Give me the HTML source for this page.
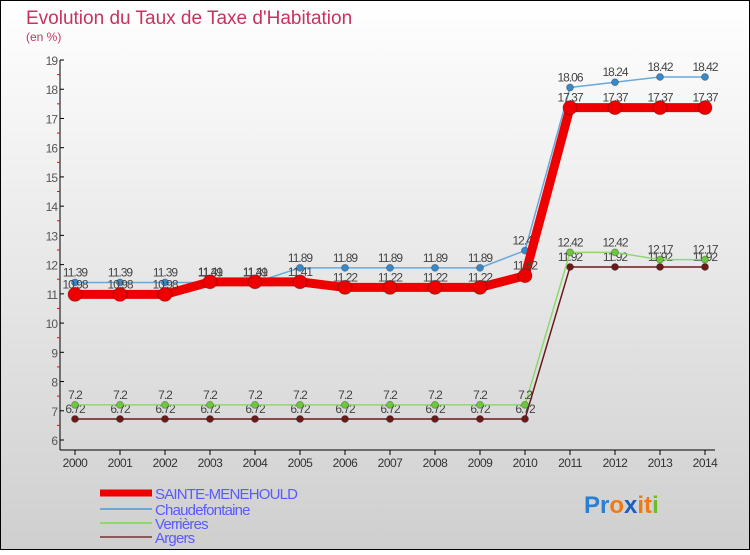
<!DOCTYPE html>
<html><head><meta charset="utf-8">
<style>
html,body{margin:0;padding:0}
body{width:750px;height:550px;overflow:hidden;font-family:"Liberation Sans",sans-serif}
</style></head>
<body>
<svg id="chart" width="750" height="550" xmlns="http://www.w3.org/2000/svg" font-family="Liberation Sans, sans-serif">
<defs><linearGradient id="bg" x1="0" y1="0" x2="0" y2="1"><stop offset="0" stop-color="#ffffff"/><stop offset="1" stop-color="#cfcfcf"/></linearGradient></defs>
<rect x="0.5" y="0.5" width="749" height="549" fill="url(#bg)" stroke="#000"/>
<text x="26" y="24" font-size="19" fill="#c8325e">Evolution du Taux de Taxe d'Habitation</text>
<text x="26" y="41" font-size="12" fill="#c8325e">(en %)</text>
<g id="axes"></g>
<g id="series"></g>
<g id="legend"></g>
<text x="584" y="513" font-size="24" font-weight="bold" letter-spacing="0"><tspan fill="#2a7fd0">Pr</tspan><tspan fill="#f07a10">o</tspan><tspan fill="#1a5fc0">x</tspan><tspan fill="#f07a10">it</tspan><tspan fill="#6bbf2a">i</tspan></text>
</svg>
<script>
const years=[2000,2001,2002,2003,2004,2005,2006,2007,2008,2009,2010,2011,2012,2013,2014];
const yTicks=[6,7,8,9,10,11,12,13,14,15,16,17,18,19];
const sainte=[10.98,10.98,10.98,11.41,11.41,11.41,11.22,11.22,11.22,11.22,11.62,17.37,17.37,17.37,17.37];
const chaude=[11.39,11.39,11.39,11.39,11.39,11.89,11.89,11.89,11.89,11.89,12.48,18.06,18.24,18.42,18.42];
const verr=[7.2,7.2,7.2,7.2,7.2,7.2,7.2,7.2,7.2,7.2,7.2,12.42,12.42,12.17,12.17];
const argers=[6.72,6.72,6.72,6.72,6.72,6.72,6.72,6.72,6.72,6.72,6.72,11.92,11.92,11.92,11.92];
const NS="http://www.w3.org/2000/svg";
const x=i=>75+i*45;
const y=v=>440-(v-6)*(380/13);
function mk(tag,attrs,parent){const e=document.createElementNS(NS,tag);for(const k in attrs)e.setAttribute(k,attrs[k]);parent.appendChild(e);return e;}
const ax=document.getElementById('axes');
const yl=mk('line',{x1:60,y1:60,x2:60,y2:450,stroke:'#000'},ax);


const xl=mk('line',{x1:60,y1:450,x2:715,y2:450,stroke:'#000'},ax);


yTicks.forEach(t=>{
  mk('line',{x1:60,y1:y(t),x2:64,y2:y(t),stroke:'#000'},ax);
  if(t<19) mk('line',{x1:57,y1:y(t+0.5),x2:60,y2:y(t+0.5),stroke:'#f00'},ax);
  const tx=mk('text',{x:57,y:y(t)+5,'font-size':12,fill:'#555','text-anchor':'end','letter-spacing':'-1'},ax);
  tx.textContent=t;
  
  
});
years.forEach((yr,i)=>{
  mk('line',{x1:x(i),y1:450,x2:x(i),y2:455,stroke:'#000'},ax);
  const tx=mk('text',{x:x(i),y:467,'font-size':12,fill:'#333','text-anchor':'middle','letter-spacing':'-0.5'},ax);
  tx.textContent=yr;
  
  
});
const sg=document.getElementById('series');
const defs=[
 {d:argers,c:'#6b1a1a',w:1.5,r:3.5,name:'argers'},
 {d:verr,c:'#8fd870',w:1.5,r:3.5,fill:'#6cc83c',name:'verrieres'},
 {d:chaude,c:'#6aa8d8',w:1.5,r:3.5,fill:'#3a88c8',name:'chaudefontaine'},
 {d:sainte,c:'#ee0000',w:9,r:7,name:'sainte-menehould'}
];
defs.forEach(s=>{
  const g=mk('g',{},sg);
  
  
  const p=mk('polyline',{points:s.d.map((v,i)=>x(i)+','+y(v)).join(' '),fill:'none',stroke:s.c,'stroke-width':s.w},g);
  
  
  s.d.forEach((v,i)=>{
    const c=mk('circle',{cx:x(i),cy:y(v),r:s.r,fill:s.fill||s.c,stroke:'rgba(0,0,0,0.25)'},g);
    
    
    const t=mk('text',{x:x(i),y:y(v)-6,'font-size':12,fill:'#444','text-anchor':'middle','letter-spacing':'-1'},g);
    t.textContent=v;
    
    
  });
});
const lg=document.getElementById('legend');
const items=[['SAINTE-MENEHOULD','#ee0000',7,493],['Chaudefontaine','#6aa8d8',2,509],['Verrières','#8fd870',2,523],['Argers','#8a5a5a',2,537]];
items.forEach(it=>{
  const l=mk('line',{x1:100,y1:it[3],x2:152,y2:it[3],stroke:it[1],'stroke-width':it[2]},lg);
  
  
  const t=mk('text',{x:155,y:it[3]+6,'font-size':15,fill:'#5a5aff','letter-spacing':'-0.8'},lg);
  t.textContent=it[0];
  
  
});
</script>
</body></html>
